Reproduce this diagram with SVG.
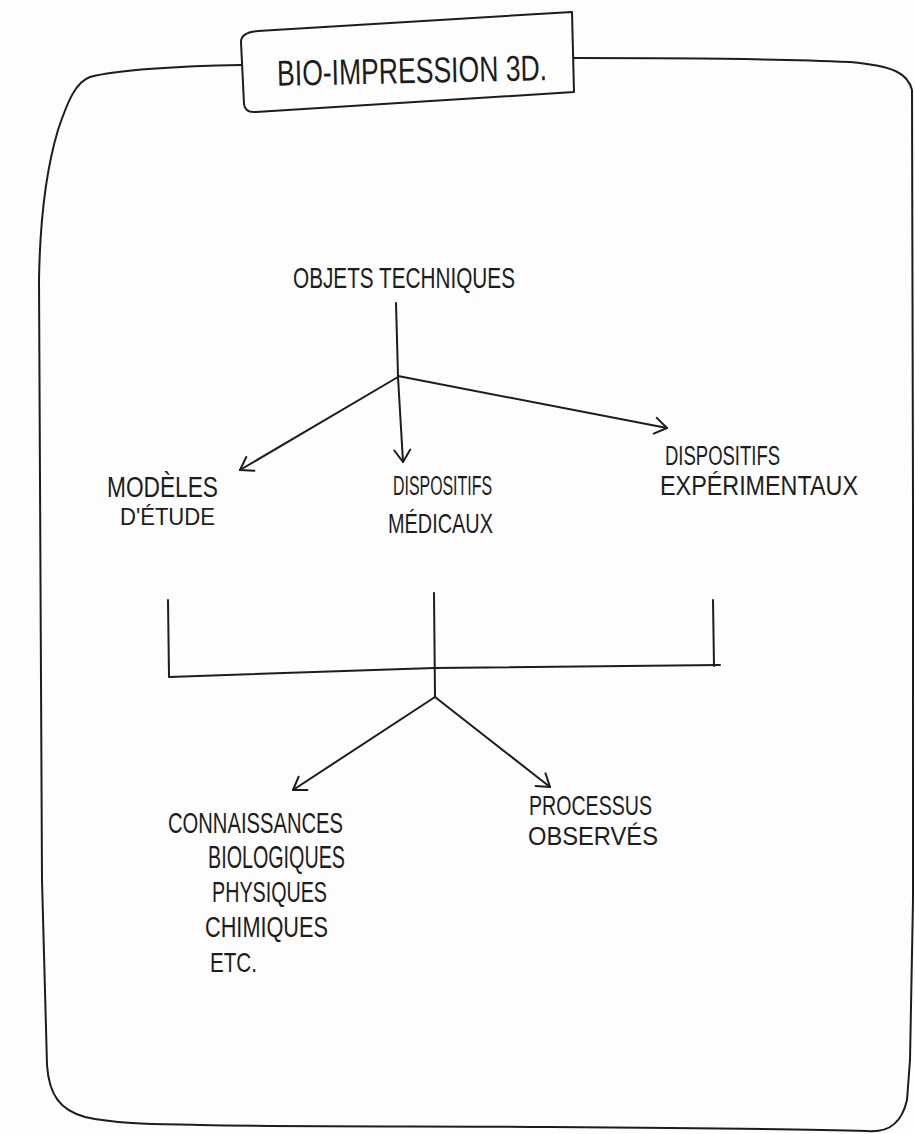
<svg xmlns="http://www.w3.org/2000/svg" width="915" height="1134" viewBox="0 0 915 1134">
<style>
.ink{fill:none;stroke:#1c1c1c;stroke-width:2;stroke-linecap:round;stroke-linejoin:round}
.t{font-family:"Liberation Sans",Arial,sans-serif;fill:#1c1c1c;font-weight:normal}
</style>
<defs>
<marker id="arr" markerUnits="userSpaceOnUse" markerWidth="30" markerHeight="30" viewBox="-15 -15 30 30" refX="0" refY="0" orient="auto">
<path d="M -12,-8 L 0,0 L -12,8" fill="none" stroke="#1c1c1c" stroke-width="2" stroke-linecap="round" stroke-linejoin="round"/>
</marker>
</defs>
<rect width="915" height="1134" fill="#fdfdfd"/>
<path id="frame" class="ink" d="M 241,65 C 180,66 115,70 90,77 C 76,82 68,100 58,130 C 46,170 40,220 39,280 L 42,880 L 47,1065 C 49,1095 60,1110 85,1117 C 120,1125 170,1124 200,1125 C 300,1127 450,1126 550,1127 C 700,1128 800,1129 867,1131 C 890,1133 902,1122 907,1100 L 910,1060 L 913,900 L 913,500 L 912,90 C 908,74 895,66 850,62 C 760,58 650,58 574,58"/>
<g id="title">
<path class="ink" d="M 258,31 L 572,12 L 574,92 L 256,112 Q 245,113 244,104 L 241,42 Q 241,32 258,31 Z"/>
<text class="t" x="277" y="83" font-size="36" textLength="270" lengthAdjust="spacingAndGlyphs" transform="rotate(-1.2 412 70)">BIO-IMPRESSION 3D.</text>
</g>
<g id="objets"><text class="t" x="293" y="288" font-size="29" textLength="222" lengthAdjust="spacingAndGlyphs">OBJETS TECHNIQUES</text></g>
<g id="modeles">
<text class="t" x="107" y="497" font-size="30" textLength="111" lengthAdjust="spacingAndGlyphs">MODÈLES</text>
<text class="t" x="120" y="525" font-size="24" textLength="95" lengthAdjust="spacingAndGlyphs">D'ÉTUDE</text>
</g>
<g id="medicaux">
<text class="t" x="393" y="495" font-size="27" textLength="99" lengthAdjust="spacingAndGlyphs">DISPOSITIFS</text>
<text class="t" x="388" y="533" font-size="28" textLength="105" lengthAdjust="spacingAndGlyphs">MÉDICAUX</text>
</g>
<g id="experimentaux">
<text class="t" x="665" y="465" font-size="27" textLength="115" lengthAdjust="spacingAndGlyphs">DISPOSITIFS</text>
<text class="t" x="660" y="495" font-size="28" textLength="198" lengthAdjust="spacingAndGlyphs">EXPÉRIMENTAUX</text>
</g>
<g id="connaissances">
<text class="t" x="168" y="833" font-size="29" textLength="175" lengthAdjust="spacingAndGlyphs">CONNAISSANCES</text>
<text class="t" x="208" y="868" font-size="31" textLength="137" lengthAdjust="spacingAndGlyphs">BIOLOGIQUES</text>
<text class="t" x="212" y="902" font-size="30" textLength="115" lengthAdjust="spacingAndGlyphs">PHYSIQUES</text>
<text class="t" x="205" y="937" font-size="30" textLength="123" lengthAdjust="spacingAndGlyphs">CHIMIQUES</text>
<text class="t" x="210" y="972" font-size="28" textLength="47" lengthAdjust="spacingAndGlyphs">ETC.</text>
</g>
<g id="processus">
<text class="t" x="529" y="815" font-size="28" textLength="123" lengthAdjust="spacingAndGlyphs">PROCESSUS</text>
<text class="t" x="528" y="845" font-size="25" textLength="130" lengthAdjust="spacingAndGlyphs">OBSERVÉS</text>
</g>
<g id="connectors">
<path class="ink" d="M 396,303 L 398,376"/>
<path class="ink" d="M 398,377 L 240,470" marker-end="url(#arr)"/>
<path class="ink" d="M 398,377 L 403,462" marker-end="url(#arr)"/>
<path class="ink" d="M 398,376 L 667,428" marker-end="url(#arr)"/>
<path class="ink" d="M 168,600 L 169,677 L 434,668 L 720,665"/>
<path class="ink" d="M 713,600 L 714,666"/>
<path class="ink" d="M 434,593 L 435,697"/>
<path class="ink" d="M 435,697 L 293,790" marker-end="url(#arr)"/>
<path class="ink" d="M 435,697 L 550,787" marker-end="url(#arr)"/>
</g>
</svg>
